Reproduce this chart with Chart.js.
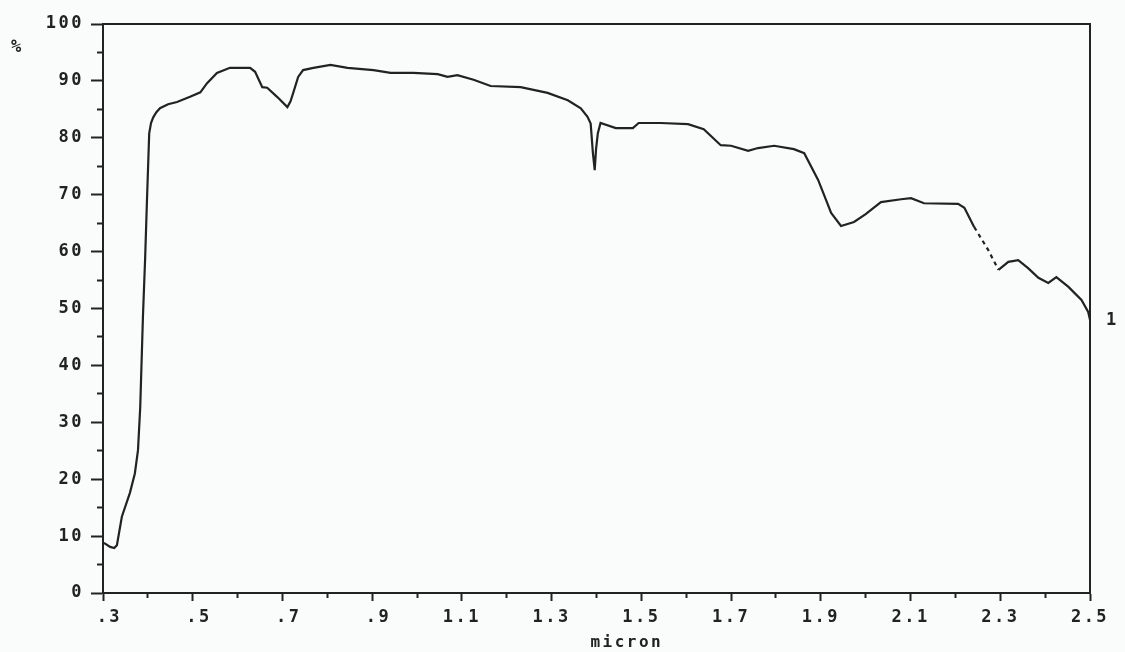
<!DOCTYPE html>
<html>
<head>
<meta charset="utf-8">
<script src="https://cdn.jsdelivr.net/npm/chart.js@4.4.1/dist/chart.umd.min.js"></script>
<style>
  html, body { margin: 0; padding: 0; background: #fafcfb; }
  #wrap { width: 1125px; height: 652px; position: relative; }
</style>
</head>
<body>
<div id="wrap"><canvas id="c" width="1125" height="652"></canvas></div>
<script>
// ---- data (wavelength in micron, reflectance in %) ----
const wavelength = [
  0.302, 0.316, 0.325, 0.331, 0.342, 0.360, 0.371, 0.378, 0.383, 0.389,
  0.394, 0.398, 0.403, 0.407, 0.412, 0.419, 0.427, 0.445, 0.465, 0.494, 0.517, 0.532,
  0.554, 0.583, 0.628, 0.639, 0.655, 0.666, 0.688, 0.711, 0.718, 0.724, 0.735,
  0.746, 0.769, 0.807, 0.845, 0.903, 0.941, 0.992, 1.046, 1.068, 1.090,
  1.126, 1.164, 1.231, 1.291, 1.336, 1.365, 1.380, 1.387, 1.392, 1.396,
  1.399, 1.403, 1.409, 1.443, 1.481, 1.494, 1.543, 1.604, 1.639, 1.677,
  1.700, 1.738, 1.760, 1.796, 1.840, 1.863, 1.894, 1.923, 1.945, 1.974,
  2.000, 2.034, 2.079, 2.101, 2.130, 2.206, 2.220, 2.242, 2.273, 2.296,
  2.318, 2.340, 2.362, 2.385, 2.407, 2.425, 2.452, 2.481, 2.496, 2.500
];
const reflectance = [
  8.8, 8.1, 7.9, 8.4, 13.4, 17.6, 21.0, 25.1, 32.7, 48.5,
  59.0, 69.0, 80.8, 82.6, 83.6, 84.5, 85.2, 85.9, 86.3, 87.2, 88.0, 89.6,
  91.4, 92.3, 92.3, 91.6, 88.9, 88.8, 87.2, 85.4, 86.4, 87.9, 90.7,
  91.9, 92.3, 92.8, 92.3, 91.9, 91.4, 91.4, 91.2, 90.7, 91.0,
  90.2, 89.1, 88.9, 87.9, 86.6, 85.2, 83.7, 82.5, 77.3, 74.3,
  78.0, 80.8, 82.6, 81.7, 81.7, 82.6, 82.6, 82.4, 81.5, 78.7,
  78.6, 77.7, 78.2, 78.6, 78.0, 77.3, 72.6, 66.8, 64.5, 65.2,
  66.6, 68.7, 69.2, 69.4, 68.5, 68.4, 67.7, 64.3, 60.3, 56.8,
  58.2, 58.5, 57.1, 55.4, 54.5, 55.5, 53.8, 51.5, 49.4, 48.0
];
// range drawn as a broken (dashed) trace in the original
const dashedRange = [2.24, 2.30];

// ---- axis ticks / labels ----
const xMin = 0.3, xMax = 2.5, xStep = 0.1;
const yMin = 0, yMax = 100, yStep = 5;
const xAxisTitle = '     micron';
const yAxisUnit = '%';
const seriesLabel = '1';

const INK = '#222';
const FONT = '"DejaVu Sans Mono", "Liberation Mono", monospace';

const points = wavelength.map((w, i) => ({ x: w, y: reflectance[i] }));

const isMinorX = v => Math.round(v * 10) % 2 === 0;
const isMinorY = v => Math.round(v) % 10 !== 0;

const textPlugin = {
  id: 'plotterText',
  beforeDraw(chart) {
    chart.ctx.letterSpacing = '2.5px';
  },
  afterDraw(chart) {
    const { ctx, scales } = chart;
    ctx.save();
    ctx.font = 'bold 17px ' + FONT;
    ctx.fillStyle = INK;
    ctx.textAlign = 'left';
    ctx.textBaseline = 'middle';
    ctx.fillText(yAxisUnit, 11, scales.y.getPixelForValue(95.8));
    const meta = chart.getDatasetMeta(0);
    const last = meta.data[meta.data.length - 1];
    ctx.fillText(seriesLabel, last.x + 16, last.y + 1);
    ctx.restore();
  }
};

new Chart(document.getElementById('c'), {
  type: 'line',
  data: {
    datasets: [{
      label: seriesLabel,
      data: points,
      borderColor: INK,
      borderWidth: 2.2,
      pointRadius: 0,
      tension: 0,
      fill: false,
      segment: {
        borderDash: c => (c.p0.parsed.x >= dashedRange[0] && c.p1.parsed.x <= dashedRange[1]) ? [4, 4] : undefined
      }
    }]
  },
  options: {
    responsive: false,
    animation: false,
    devicePixelRatio: 1,
    layout: { padding: { top: 24, right: 35, left: 0, bottom: 0 } },
    plugins: { legend: { display: false }, tooltip: { enabled: false }, title: { display: false } },
    scales: {
      x: {
        type: 'linear', position: 'bottom', min: xMin, max: xMax,
        afterFit: s => { s.height = 59; },
        border: { display: true, color: INK, width: 2 },
        grid: {
          drawOnChartArea: false, drawTicks: true, tickLength: 8,
          tickColor: INK, tickWidth: 2,
          tickBorderDash: c => (c.tick && isMinorX(c.tick.value)) ? [4, 100] : []
        },
        ticks: {
          stepSize: xStep, autoSkip: false, maxRotation: 0, padding: 6,
          color: INK, font: { family: FONT, size: 17, weight: 'bold' },
          callback: v => {
            if (isMinorX(v)) return '';
            const s = (Math.round(v * 10) / 10).toFixed(1);
            return v < 1 ? ' ' + s.slice(1) : s;
          }
        },
        title: {
          display: true, text: xAxisTitle, color: INK,
          font: { family: FONT, size: 16, weight: 'bold' }, padding: { top: 0, bottom: 0 }
        }
      },
      y: {
        type: 'linear', position: 'left', min: yMin, max: yMax,
        afterFit: s => { s.width = 103; },
        border: { display: true, color: INK, width: 2 },
        grid: {
          drawOnChartArea: false, drawTicks: true, tickLength: 12,
          tickColor: INK, tickWidth: 2,
          tickBorderDash: c => (c.tick && isMinorY(c.tick.value)) ? [0, 6, 6, 0] : []
        },
        ticks: {
          stepSize: yStep, autoSkip: false, padding: 7,
          color: INK, font: { family: FONT, size: 17, weight: 'bold' },
          callback: v => isMinorY(v) ? '' : String(Math.round(v))
        }
      },
      xTop: {
        type: 'linear', position: 'top', min: xMin, max: xMax,
        afterFit: s => { s.height = 0; },
        border: { display: true, color: INK, width: 2 },
        grid: { display: false }, ticks: { display: false }
      },
      yRight: {
        type: 'linear', position: 'right', min: yMin, max: yMax,
        afterFit: s => { s.width = 0; },
        border: { display: true, color: INK, width: 2 },
        grid: { display: false }, ticks: { display: false }
      }
    }
  },
  plugins: [textPlugin]
});
</script>
</body>
</html>
